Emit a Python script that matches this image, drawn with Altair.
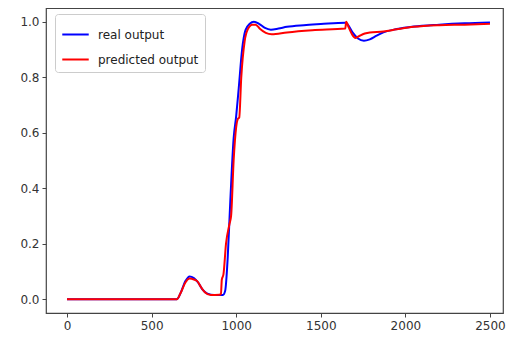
import altair as alt
import pandas as pd

series_names = ["real output", "predicted output"]

real_x = [0, 650, 670, 700, 725, 750, 775, 800, 830, 870, 910, 922, 935, 950, 965, 985, 1000,
          1015, 1035, 1055, 1080, 1105, 1135, 1170, 1205, 1250, 1300, 1400, 1500, 1645, 1660,
          1690, 1720, 1755, 1790, 1830, 1870, 1950, 2050, 2200, 2350, 2500]
real_y = [0.0, 0.0, 0.02, 0.065, 0.082, 0.076, 0.06, 0.035, 0.02, 0.015, 0.015, 0.015, 0.03,
          0.15, 0.35, 0.58, 0.66, 0.76, 0.9, 0.97, 0.993, 1.0, 0.993, 0.978, 0.972, 0.976,
          0.982, 0.988, 0.992, 0.997, 0.99, 0.96, 0.94, 0.932, 0.937, 0.95, 0.962, 0.974,
          0.983, 0.99, 0.995, 0.998]

pred_x = [0, 650, 670, 700, 725, 750, 770, 790, 815, 850, 900, 910, 915, 925, 940, 960, 970,
          985, 1000, 1010, 1018, 1030, 1050, 1070, 1095, 1115, 1140, 1175, 1210, 1300, 1450,
          1645, 1650, 1665, 1685, 1705, 1730, 1760, 1790, 1870, 1950, 2050, 2200, 2350, 2500]
pred_y = [0.0, 0.0, 0.02, 0.06, 0.074, 0.071, 0.065, 0.045, 0.025, 0.015, 0.016, 0.018, 0.07,
          0.09, 0.2, 0.27, 0.3, 0.5, 0.62, 0.65, 0.655, 0.8, 0.93, 0.975, 0.99, 0.99, 0.975,
          0.96, 0.955, 0.962, 0.97, 0.976, 1.0, 0.98, 0.955, 0.942, 0.95, 0.958, 0.962, 0.965,
          0.973, 0.982, 0.988, 0.99, 0.993]

x_ticks = [0, 500, 1000, 1500, 2000, 2500]
y_ticks = [0.0, 0.2, 0.4, 0.6, 0.8, 1.0]

df = pd.concat([
    pd.DataFrame({"x": real_x, "y": real_y, "series": series_names[0], "order": 0}),
    pd.DataFrame({"x": pred_x, "y": pred_y, "series": series_names[1], "order": 1}),
])

axis_common = dict(
    grid=False, domain=False, tickColor="#444", tickSize=4, labelColor="#333",
    labelFont="DejaVu Sans", labelFontSize=12, labelPadding=3, title=None,
)

chart = alt.Chart(df).mark_line(strokeWidth=2, interpolate="monotone").encode(
    x=alt.X("x:Q", scale=alt.Scale(domain=[-124, 2577], nice=False, zero=False),
            axis=alt.Axis(values=x_ticks, format="d", **axis_common)),
    y=alt.Y("y:Q", scale=alt.Scale(domain=[-0.05, 1.05], nice=False, zero=False),
            axis=alt.Axis(values=y_ticks, format=".1f", **axis_common)),
    color=alt.Color("series:N",
                    scale=alt.Scale(domain=series_names, range=["#0000ff", "#ff0000"]),
                    legend=alt.Legend(
                        title=None, orient="none", legendX=9, legendY=6,
                        symbolType="stroke", symbolStrokeWidth=2, symbolSize=700,
                        labelFont="DejaVu Sans", labelFontSize=12, labelColor="#222",
                        strokeColor="#ccc", fillColor="white", padding=6,
                        cornerRadius=3, rowPadding=4, labelOffset=8,
                    )),
    detail="series:N",
    order="order:Q",
).properties(
    width=457, height=305,
    autosize=alt.AutoSizeParams(type="none"),
    padding={"left": 38, "top": 0, "right": 4, "bottom": 22},
).configure_view(
    stroke="#444", strokeWidth=1.2,
)

chart.save("out.html", embed_options={"renderer": "svg", "actions": False})
